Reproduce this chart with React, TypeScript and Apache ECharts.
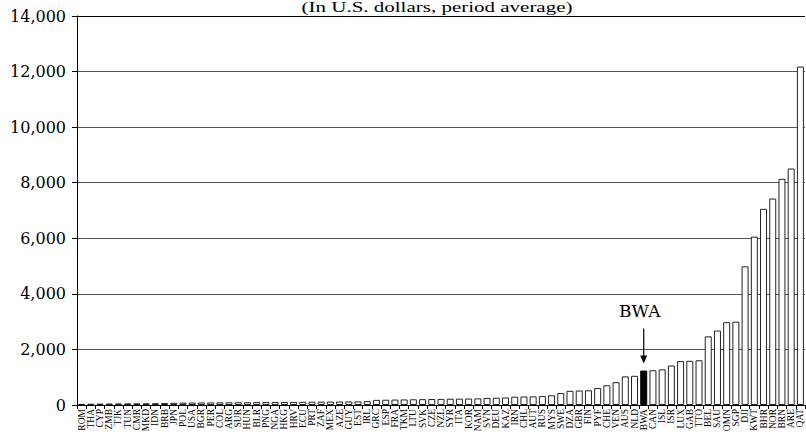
import React, { useEffect, useRef } from "react";
import * as echarts from "echarts";

const categories = [
  "ROM","THA","CYP","ZMB","TJK","TUN","CMR","MKD","IDN","BRB",
  "JPN","POL","USA","BGR","PER","COL","ARG","SUR","HUN","BLR",
  "PNG","NGA","HKG","HRV","ECU","PRT","ZAF","MEX","AZE","GUY",
  "EST","IRL","GRC","ESP","FRA","TKM","LTU","SVK","CZE","NZL",
  "SYR","ITA","KOR","NAM","SVN","DEU","KAZ","IRN","CHL","AUT",
  "RUS","MYS","SWE","DZA","GBR","FIN","PYF","CHE","VEN","AUS",
  "NLD","BWA","CAN","ISL","ISR","LUX","GAB","TTO","BEL","SAU",
  "OMN","SGP","DJI","KWT","BHR","NOR","BRN","ARE","QAT"
];

const values = [
  40, 45, 50, 55, 55, 60, 60, 62, 65, 70,
  80, 85, 88, 90, 92, 95, 97, 100, 100, 105,
  105, 108, 110, 112, 115, 118, 120, 122, 125, 128,
  130, 140, 185, 190, 195, 200, 205, 210, 215, 220,
  225, 228, 232, 238, 255, 262, 270, 300, 305, 310,
  320, 350, 430, 510, 520, 530, 610, 710, 820, 1030,
  1050, 1240, 1250, 1280, 1420, 1580, 1590, 1610, 2470, 2680,
  2980, 3000, 4990, 6060, 7060, 7430, 8140, 8510, 12180
];

const highlight = "BWA";
const title = "(In U.S. dollars, period average)";
const yMin = 0;
const yMax = 14000;
const yStep = 2000;

export default function App() {
  const ref = useRef<HTMLDivElement>(null);
  useEffect(() => {
    if (!ref.current) return;
    const chart = echarts.init(ref.current, null, { renderer: "svg" });
    const serif = "'Liberation Serif', 'Times New Roman', serif";
    const nLines = Math.round((yMax - yMin) / yStep) + 1;
    const gridColors = Array.from({ length: nLines }, (_, i) =>
      i === nLines - 1 ? "#000" : "#555"
    );
    chart.setOption({
      animation: false,
      grid: { left: 77, right: 1, top: 16, bottom: 31, containLabel: false },
      xAxis: {
        type: "category",
        data: categories,
        axisLine: { show: true, lineStyle: { color: "#000", width: 1 } },
        axisTick: { show: true, length: 4, lineStyle: { color: "#000" } },
        axisLabel: {
          rotate: 90,
          interval: 0,
          fontFamily: serif,
          fontSize: 9.5,
          color: "#000",
          margin: 4,
        },
        splitLine: { show: false },
      },
      yAxis: {
        type: "value",
        min: yMin,
        max: yMax,
        interval: yStep,
        axisLine: { show: true, lineStyle: { color: "#000", width: 1 } },
        axisTick: { show: true, length: 5, lineStyle: { color: "#000" } },
        axisLabel: {
          fontFamily: "'DejaVu Serif', serif",
          fontSize: 16,
          color: "#000",
          margin: 11,
          formatter: (v: number) => v.toLocaleString("en-US"),
        },
        splitLine: { show: true, lineStyle: { color: gridColors, width: 1 } },
      },
      series: [
        {
          type: "bar",
          barCategoryGap: "24%",
          data: values.map((v, i) =>
            categories[i] === highlight
              ? { value: v, itemStyle: { color: "#000", borderColor: "#000" } }
              : v
          ),
          itemStyle: { color: "#fff", borderColor: "#222", borderWidth: 1 },
        },
      ],
    });

    const idx = categories.indexOf(highlight);
    const [px, py] = chart.convertToPixel({ gridIndex: 0 }, [idx, values[idx]]) as number[];
    chart.setOption({
      graphic: [
        {
          type: "text",
          x: 437,
          y: 0,
          scaleX: 1.4,
          style: {
            text: title,
            font: "15px 'Liberation Serif', serif",
            fill: "#000",
            textAlign: "center",
            textVerticalAlign: "top",
          },
        },
        {
          type: "text",
          x: px - 4,
          y: py - 60,
          style: {
            text: highlight,
            font: "17px 'DejaVu Serif', serif",
            fill: "#000",
            textAlign: "center",
            textVerticalAlign: "middle",
          },
        },
        {
          type: "line",
          shape: { x1: px, y1: py - 42, x2: px, y2: py - 14 },
          style: { stroke: "#000", lineWidth: 1.2 },
        },
        {
          type: "polygon",
          shape: { points: [[px - 3.5, py - 15], [px + 3.5, py - 15], [px, py - 7]] },
          style: { fill: "#000" },
        },
      ],
    });
    return () => chart.dispose();
  }, []);
  return (
    <div
      ref={ref}
      style={{ position: "absolute", left: 0, top: 0, width: 806, height: 436 }}
    />
  );
}
